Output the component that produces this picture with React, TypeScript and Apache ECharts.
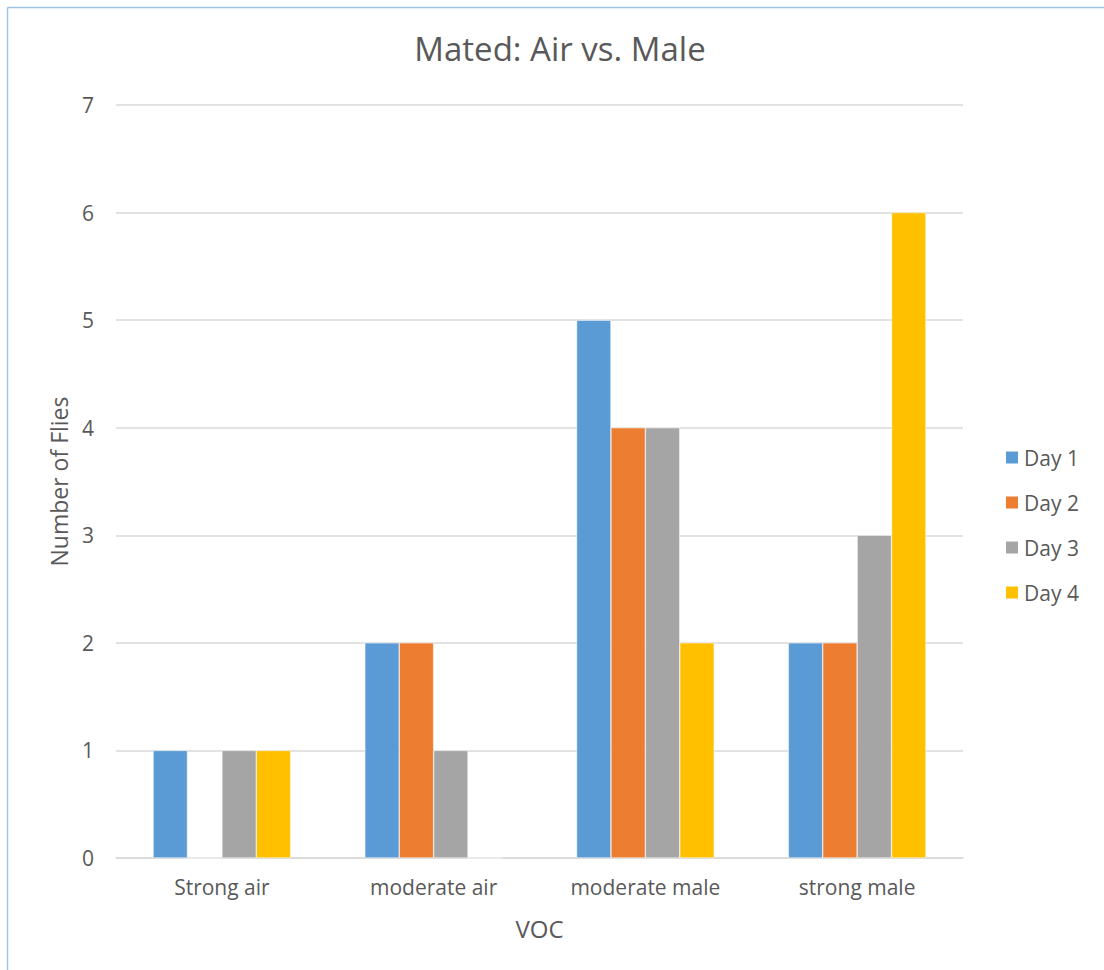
import React, { useEffect, useRef } from "react";
import * as echarts from "echarts";

const categories = ["Strong air", "moderate air", "moderate male", "strong male"];
const seriesNames = ["Day 1", "Day 2", "Day 3", "Day 4"];
const day1 = [1, 2, 5, 2];
const day2 = [0, 2, 4, 2];
const day3 = [1, 1, 4, 3];
const day4 = [1, 0, 2, 6];
const colors = ["#5B9BD5", "#ED7D31", "#A5A5A5", "#FFC000"];

export default function App() {
  const ref = useRef<HTMLDivElement>(null);
  useEffect(() => {
    if (!ref.current) return;
    const chart = echarts.init(ref.current, null, { renderer: "svg" });
    const font = "'Open Sans', 'Liberation Sans', sans-serif";
    const values = [day1, day2, day3, day4];
    chart.setOption({
      animation: false,
      textStyle: { fontFamily: font },
      title: {
        text: "Mated: Air vs. Male",
        left: 560,
        textAlign: "center",
        top: 32,
        padding: 0,
        textStyle: { fontSize: 33, fontWeight: "normal", color: "#595959", fontFamily: font },
      },
      legend: {
        orient: "vertical",
        left: 1004,
        top: 447,
        padding: 0,
        itemWidth: 14,
        itemHeight: 14,
        itemGap: 24,
        icon: "rect",
        textStyle: { fontSize: 21, color: "#595959", fontFamily: font },
        data: seriesNames,
      },
      grid: { left: 116, right: 141, top: 105, bottom: 112, containLabel: false },
      xAxis: {
        type: "category",
        data: categories,
        name: "VOC",
        nameLocation: "middle",
        nameGap: 58,
        nameTextStyle: { fontSize: 24, color: "#595959", fontFamily: font },
        axisLine: { lineStyle: { color: "#D9D9D9", width: 1.5 } },
        axisTick: { show: false },
        axisLabel: { fontSize: 21, color: "#595959", margin: 18, fontFamily: font },
      },
      yAxis: {
        type: "value",
        min: 0,
        max: 7,
        interval: 1,
        name: "Number of Flies",
        nameLocation: "middle",
        nameGap: 46,
        nameTextStyle: { fontSize: 23, color: "#595959", fontFamily: font },
        axisLine: { show: false },
        axisTick: { show: false },
        axisLabel: { fontSize: 21, color: "#595959", margin: 22, fontFamily: font },
        splitLine: { lineStyle: { color: "#D9D9D9", width: 1.5 } },
      },
      graphic: [
        { type: "line", shape: { x1: 7.5, y1: 7.5, x2: 1104, y2: 7.5 }, style: { stroke: "#9DC3E6", lineWidth: 1.5 } },
        { type: "line", shape: { x1: 7.5, y1: 7.5, x2: 7.5, y2: 970 }, style: { stroke: "#9DC3E6", lineWidth: 1.5 } },
      ],
      series: seriesNames.map((n, i) => ({
        name: n,
        type: "bar",
        data: values[i],
        barGap: "0%",
        barCategoryGap: "35%",
        itemStyle: { color: colors[i], borderColor: "#ffffff", borderWidth: 0.5 },
      })),
    });
    return () => chart.dispose();
  }, []);
  return (
    <div
      ref={ref}
      style={{ position: "absolute", left: 0, top: 0, width: 1104, height: 970, background: "#fff" }}
    />
  );
}
